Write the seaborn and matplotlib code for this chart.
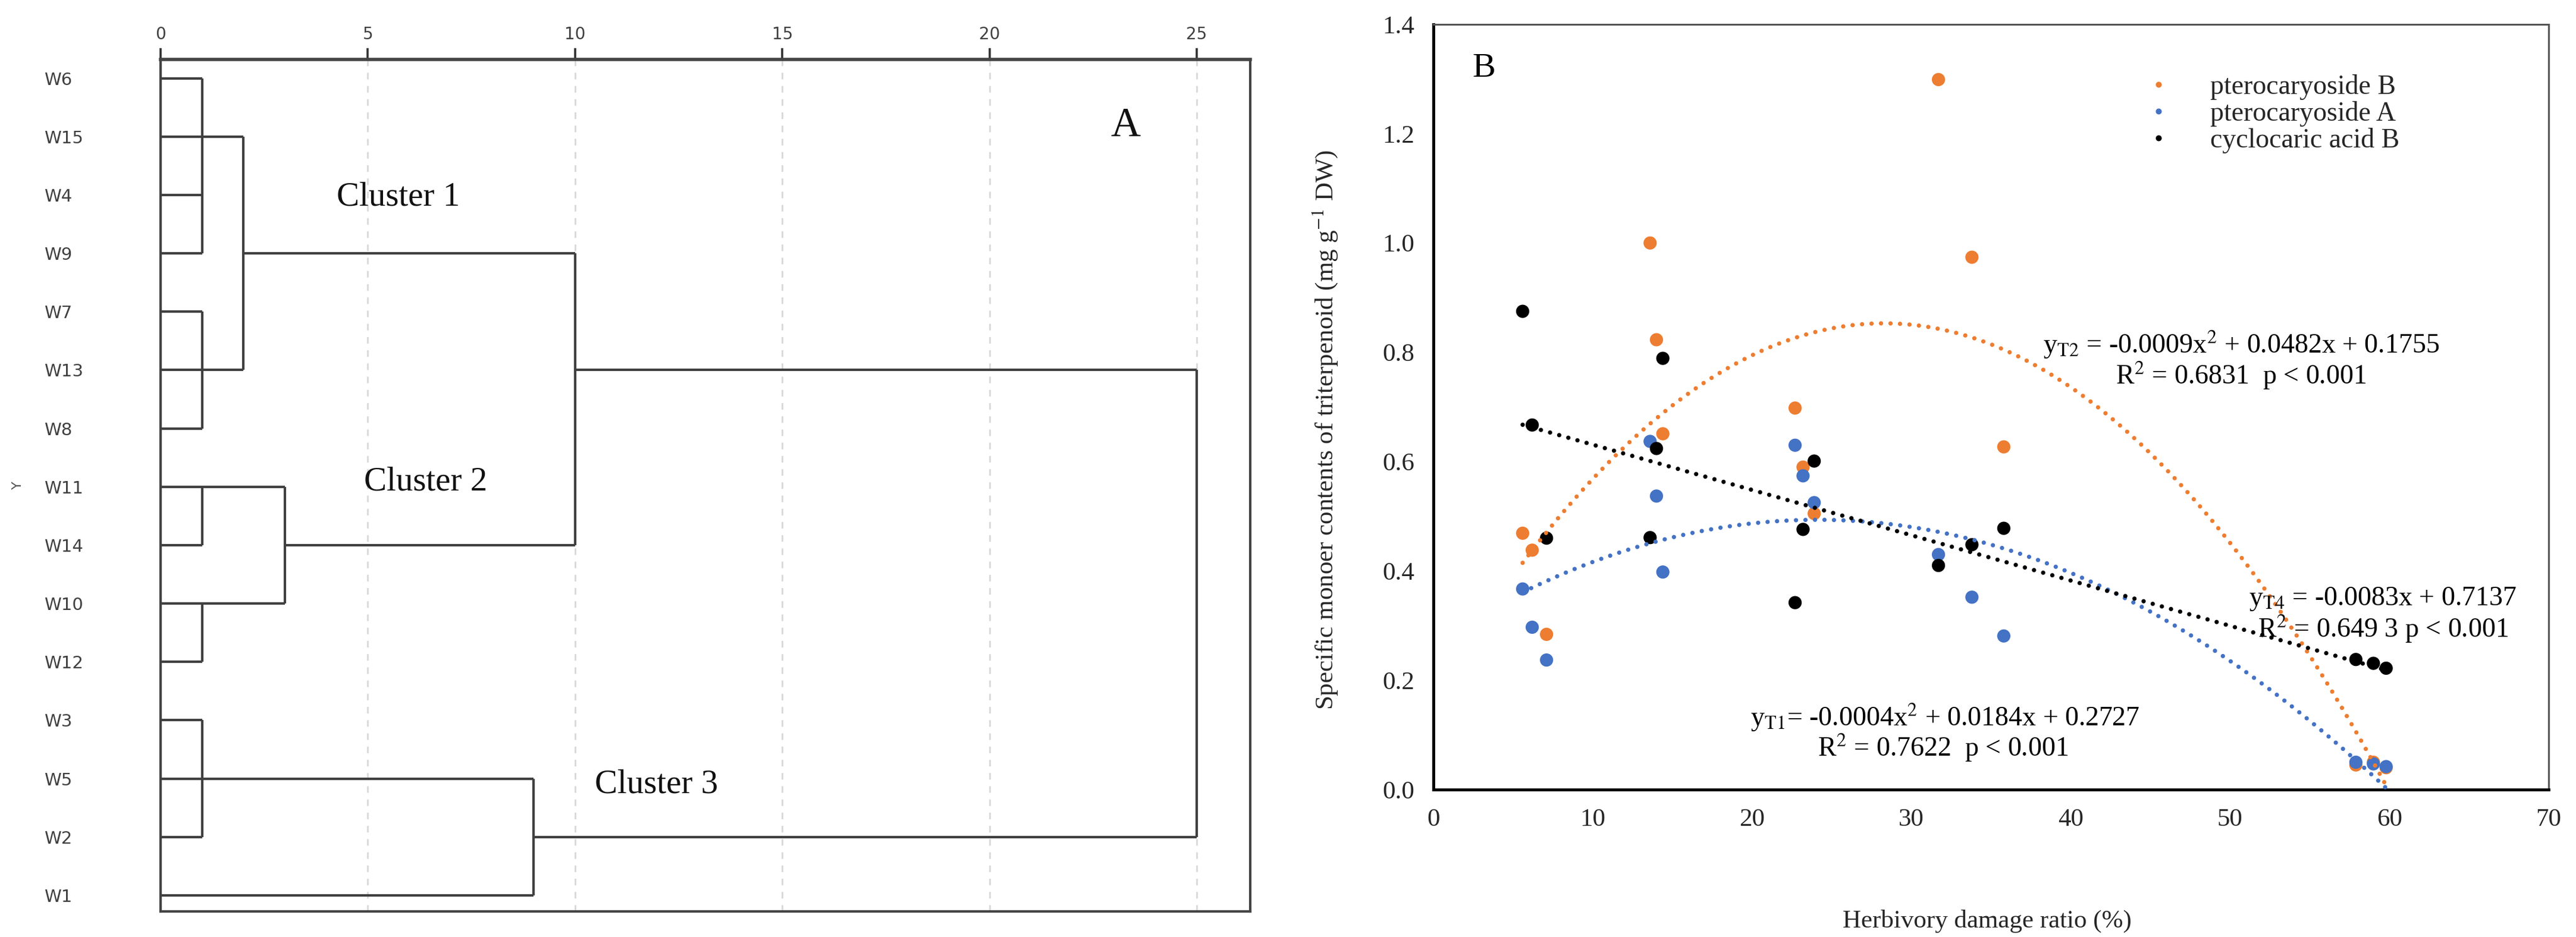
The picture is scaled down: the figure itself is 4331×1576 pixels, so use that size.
import numpy as np
import pandas as pd
import matplotlib
matplotlib.use('Agg')
import matplotlib.pyplot as plt
import seaborn as sns

# ---------------- Panel A : dendrogram (rescaled distance) ----------------
leaf_labels = ['W6', 'W15', 'W4', 'W9', 'W7', 'W13', 'W8', 'W11', 'W14',
               'W10', 'W12', 'W3', 'W5', 'W2', 'W1']
node_names = ['n1', 'n2', 'c1', 'n3', 'n4', 'c2', 'c12', 'n5', 'c3', 'root']
node_children = [['W6', 'W15', 'W4', 'W9'], ['W7', 'W13', 'W8'], ['n1', 'n2'],
                 ['W11', 'W14'], ['W10', 'W12'], ['n3', 'n4'], ['c1', 'c2'],
                 ['W3', 'W5', 'W2'], ['n5', 'W1'], ['c12', 'c3']]
node_height = [1, 1, 2, 1, 1, 3, 10, 1, 9, 25]
node_anchor = ['W15', 'W13', 'W9', 'W11', 'W10', 'W14', 'W13', 'W5', 'W2', 'W10']
distance_ticks = [0, 5, 10, 15, 20, 25]
cluster_names = ['Cluster 1', 'Cluster 2', 'Cluster 3']

# ---------------- Panel B : scatter + trend lines ----------------
damage_ratio = [5.6, 6.2, 7.1, 13.6, 14.0, 14.4, 22.7, 23.2, 23.9,
                31.7, 33.8, 35.8, 57.9, 59.0, 59.8]
pterocaryoside_B = [0.469, 0.438, 0.284, 1.000, 0.823, 0.651, 0.698, 0.590, 0.505,
                    1.299, 0.974, 0.627, 0.045, 0.050, 0.040]
pterocaryoside_A = [0.367, 0.297, 0.237, 0.637, 0.537, 0.398, 0.630, 0.574, 0.525,
                    0.430, 0.352, 0.281, 0.050, 0.047, 0.042]
cyclocaric_acid_B = [0.875, 0.667, 0.460, 0.461, 0.624, 0.789, 0.342, 0.476, 0.601,
                     0.410, 0.448, 0.478, 0.238, 0.231, 0.222]
series_names = ['pterocaryoside B', 'pterocaryoside A', 'cyclocaric acid B']
series_colors = ['#ED7D31', '#4472C4', '#000000']
fit_orders = [2, 2, 1]
x_ticks_B = [0, 10, 20, 30, 40, 50, 60, 70]
y_ticks_B = [0.0, 0.2, 0.4, 0.6, 0.8, 1.0, 1.2, 1.4]
eq_T2 = ['y$_{\\mathrm{T2}}$ = -0.0009x$^{2}$ + 0.0482x + 0.1755', 'R$^{2}$ = 0.6831  p < 0.001']
eq_T4 = ['y$_{\\mathrm{T4}}$ = -0.0083x + 0.7137', 'R$^{2}$ = 0.649 3 p < 0.001']
eq_T1 = ['y$_{\\mathrm{T1}}$= -0.0004x$^{2}$ + 0.0184x + 0.2727', 'R$^{2}$ = 0.7622  p < 0.001']

sns.set_theme(style='white')
plt.rcParams['font.family'] = ['Liberation Serif', 'DejaVu Serif']
plt.rcParams['mathtext.fontset'] = 'stix'

W, H, DPI = 4331, 1576, 200
fig = plt.figure(figsize=(W / DPI, H / DPI), dpi=DPI)
fig.patch.set_facecolor('white')

# ======== Panel A ========
axA = fig.add_axes([270 / W, 1 - 1533 / H, (2102 - 270) / W, (1533 - 100) / H])
row = {lab: i for i, lab in enumerate(leaf_labels)}
height = {lab: 0 for lab in leaf_labels}
anchor = {lab: row[lab] for lab in leaf_labels}
line_kw = dict(color='#404040', lw=1.5, solid_capstyle='butt', zorder=3)
for name, kids, h, anc in zip(node_names, node_children, node_height, node_anchor):
    rows = []
    for k in kids:
        r = anchor[k]
        rows.append(r)
        axA.plot([height[k], h], [r, r], **line_kw)
    axA.plot([h, h], [min(rows), max(rows)], **line_kw)
    height[name] = h
    anchor[name] = row[anc]

axA.set_xlim(0, (2102 - 270) / ((2012 - 270) / 25))
axA.set_ylim(14 + (1533 - 1506) / 98.2, -(131.6 - 100) / 98.2)
axA.xaxis.tick_top()
axA.set_xticks(distance_ticks)
axA.set_xticklabels([str(t) for t in distance_ticks], family=['DejaVu Sans'],
                    fontsize=10, color='#404040')
axA.tick_params(axis='x', direction='out', length=7, width=1.3, color='#303030', pad=3)
axA.set_yticks(range(len(leaf_labels)))
axA.set_yticklabels(leaf_labels, family=['DejaVu Sans'], fontsize=10.5, color='#404040')
for lab in axA.get_yticklabels():
    lab.set_horizontalalignment('left')
axA.tick_params(axis='y', length=0, pad=(270 - 74) / DPI * 72)
for t in distance_ticks[1:]:
    axA.axvline(t, color='#d8d8d8', lw=1.0, ls=(0, (4, 4)), zorder=1)
for side in ['top', 'bottom', 'left', 'right']:
    axA.spines[side].set_color('#444444')
    axA.spines[side].set_linewidth(1.5)
axA.spines['top'].set_linewidth(2.0)
axA.set_ylabel('Y', family=['DejaVu Sans'], fontsize=8, color='#555555')
axA.yaxis.set_label_coords((40 - 270) / (2102 - 270), 0.5)
axA.set_xlabel('')
cluster_pos = [(5.74, 2.04), (6.40, 6.92), (11.97, 12.1)]
for txt, (cx, cy) in zip(cluster_names, cluster_pos):
    axA.text(cx, cy, txt, fontsize=20.5, ha='center', va='center', color='#111111')
axA.text(23.29, 0.82, 'A', fontsize=25, ha='center', va='center', color='#111111')

# ======== Panel B ========
axB = fig.add_axes([2410 / W, 1 - 1328 / H, (4285 - 2410) / W, (1328 - 41) / H])
df = pd.DataFrame({
    'ratio': damage_ratio * 3,
    'content': pterocaryoside_B + pterocaryoside_A + cyclocaric_acid_B,
    'compound': sum([[n] * len(damage_ratio) for n in series_names], []),
})
sns.scatterplot(data=df, x='ratio', y='content', hue='compound', hue_order=series_names,
                palette=series_colors, s=64, linewidth=0, ax=axB, zorder=3, legend=True)
for name, col, order in zip(series_names, series_colors, fit_orders):
    sub = df[df['compound'] == name]
    sns.regplot(data=sub, x='ratio', y='content', order=order, ci=None, scatter=False,
                ax=axB, color=col,
                line_kws=dict(lw=2.6, ls=(0, (0.01, 2.2)), dash_capstyle='round', zorder=4))

axB.set_xlim(0, 70)
axB.set_ylim(0, 1.4)
axB.set_xticks(x_ticks_B)
axB.set_xticklabels([str(t) for t in x_ticks_B], fontsize=15.5)
axB.set_yticks(y_ticks_B)
axB.set_yticklabels(['%.1f' % t for t in y_ticks_B], fontsize=15.5)
axB.tick_params(axis='both', direction='out', length=5.5, width=1.6, color='black', pad=6)
for side in ['left', 'bottom']:
    axB.spines[side].set_color('black')
    axB.spines[side].set_linewidth(1.8)
for side in ['top', 'right']:
    axB.spines[side].set_color('#555555')
    axB.spines[side].set_linewidth(1.1)
axB.set_xlabel('Herbivory damage ratio (%)', fontsize=15.5)
axB.set_ylabel('Specific monoer contents of triterpenoid (mg g$^{-1}$ DW)', fontsize=15.5)
axB.xaxis.label.set_va('center')
axB.xaxis.set_label_coords(0.4966, -0.172)
axB.yaxis.label.set_va('center')
axB.yaxis.set_label_coords((2228 - 2410) / 1875, 0.47)

handles, labels = axB.get_legend_handles_labels()
leg = axB.legend(handles, labels, loc='upper left', bbox_to_anchor=(0.638, 0.935),
                 frameon=False, fontsize=16.5, markerscale=0.45, handlelength=1.0,
                 handletextpad=1.4, labelspacing=0.05, borderpad=0, borderaxespad=0)

eq_kw = dict(fontsize=16.5, ha='center', va='center', color='black', zorder=5)
axB.text(50.7, 0.814, eq_T2[0], **eq_kw)
axB.text(50.7, 0.757, eq_T2[1], **eq_kw)
axB.text(59.6, 0.349, eq_T4[0], **eq_kw)
axB.text(59.6, 0.294, eq_T4[1], **eq_kw)
axB.text(32.1, 0.132, eq_T1[0], **eq_kw)
axB.text(32.0, 0.076, eq_T1[1], **eq_kw)
axB.text(3.17, 1.32, 'B', fontsize=21, ha='center', va='center', color='black')

fig.savefig('out.png', dpi=DPI, facecolor='white')
